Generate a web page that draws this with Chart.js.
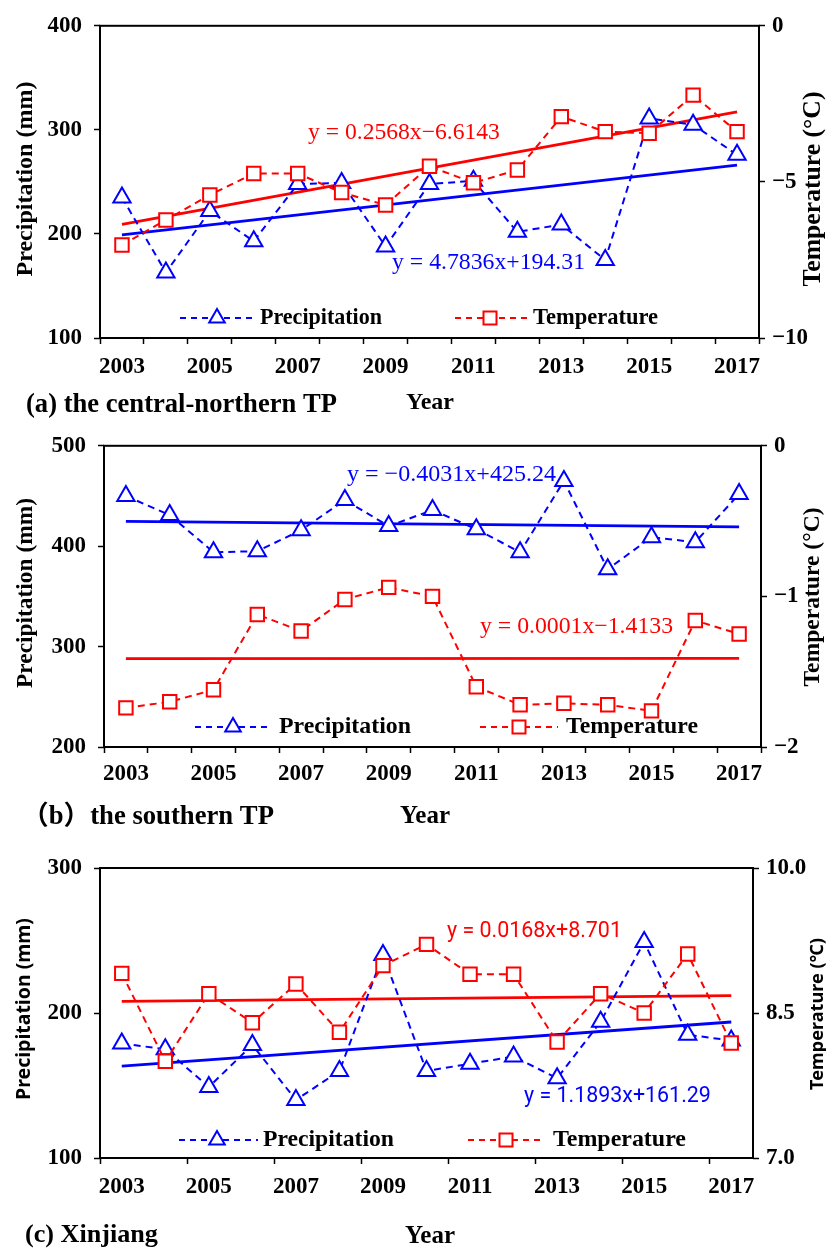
<!DOCTYPE html>
<html>
<head>
<meta charset="utf-8">
<script src="https://cdn.jsdelivr.net/npm/chart.js@4.4.0/dist/chart.umd.min.js"></script>
<style>
  body { margin: 0; background: #fff; width: 826px; height: 1249px; position: relative; overflow: hidden; }
  canvas { position: absolute; left: 0; }
</style>
</head>
<body>
<canvas id="chartA" width="826" height="420" style="top:0px"></canvas>
<canvas id="chartB" width="826" height="410" style="top:420px"></canvas>
<canvas id="chartC" width="826" height="419" style="top:830px"></canvas>
<script>
var years = ['2003', '2004', '2005', '2006', '2007', '2008', '2009', '2010', '2011', '2012', '2013', '2014', '2015', '2016', '2017'];

// (a) the central-northern TP
var precipA = [235, 163, 222, 193, 248, 249, 188, 248, 251, 202, 209, 175, 311, 305, 276];
var tempA = [-7.02, -6.22, -5.42, -4.73, -4.73, -5.34, -5.74, -4.50, -5.03, -4.62, -2.91, -3.39, -3.44, -2.22, -3.39];
var trendPrecipA = [199.1, 266.1]; // fitted line at 2003 and 2017
var trendTempA = [-6.36, -2.76];
var precipTicksA = [100, 200, 300, 400];
var tempTicksA = [-10, -5, 0];
var eqPrecipA = 'y = 4.7836x+194.31';
var eqTempA = 'y = 0.2568x\u22126.6143';

// (b) the southern TP
var precipB = [450, 431, 394, 395, 416, 446, 420, 436, 417, 394, 465, 377, 409, 404, 452];
var tempB = [-1.74, -1.70, -1.62, -1.12, -1.23, -1.02, -0.94, -1.00, -1.60, -1.72, -1.71, -1.72, -1.76, -1.16, -1.25];
var trendPrecipB = [424.8, 419.2];
var trendTempB = [-1.413, -1.412];
var precipTicksB = [200, 300, 400, 500];
var tempTicksB = [-2, -1, 0];
var eqPrecipB = 'y = \u22120.4031x+425.24';
var eqTempB = 'y = 0.0001x\u22121.4133';

// (c) Xinjiang
var precipC = [179, 175, 149, 178, 140, 160, 240, 160, 165, 170, 155, 194, 249, 185, 181];
var tempC = [8.91, 8.00, 8.70, 8.40, 8.80, 8.30, 8.99, 9.21, 8.90, 8.90, 8.20, 8.70, 8.50, 9.11, 8.19];
var trendPrecipC = [163.4, 193.8];
var trendTempC = [8.62, 8.68];
var precipTicksC = [100, 200, 300];
var tempTicksC = [7.0, 8.5, 10.0];
var eqPrecipC = 'y = 1.1893x+161.29';
var eqTempC = 'y = 0.0168x+8.701';

var RED = '#ff0000';
var BLUE = '#0000ff';
var SERIF = '"Liberation Serif", "Times New Roman", "Noto Sans CJK SC", serif';
var SANS = '"Noto Sans", "DejaVu Sans", "Noto Sans CJK SC", sans-serif';
var NARROW = 'Roboto, "Noto Sans", sans-serif';

function ends(pair) {
    var d = years.map(function () { return null; });
    d[0] = pair[0];
    d[d.length - 1] = pair[1];
    return d;
}

function fmtTemp(v, digits) {
    var s = Math.abs(v).toFixed(digits);
    return v < 0 ? '\u2212' + s : s;
}

// pick a font size so the text spans the given width
function fitFont(ctx, text, weight, family, width) {
    ctx.font = weight + ' 20px ' + family;
    var size = 20 * width / ctx.measureText(text).width;
    ctx.font = weight + ' ' + size.toFixed(2) + 'px ' + family;
}

function drawText(ctx, t) {
    ctx.save();
    fitFont(ctx, t.text, t.weight || 'normal', t.family, t.width);
    ctx.fillStyle = t.color || '#000';
    ctx.textBaseline = 'middle';
    if (t.rotate) {
        ctx.translate(t.x, t.y);
        ctx.rotate(-Math.PI / 2);
        ctx.textAlign = 'center';
        ctx.fillText(t.text, 0, 0);
    } else {
        ctx.textAlign = 'left';
        ctx.fillText(t.text, t.x, t.y);
    }
    ctx.restore();
}

function drawMarker(ctx, style, x, y, color) {
    ctx.save();
    ctx.strokeStyle = color;
    ctx.fillStyle = '#fff';
    ctx.lineWidth = 2;
    ctx.setLineDash([]);
    ctx.beginPath();
    if (style === 'triangle') {
        var r = 9;
        ctx.moveTo(x, y - r);
        ctx.lineTo(x + r * 0.866, y + r / 2);
        ctx.lineTo(x - r * 0.866, y + r / 2);
        ctx.closePath();
    } else {
        ctx.rect(x - 6.5, y - 6.5, 13, 13);
    }
    ctx.fill();
    ctx.stroke();
    ctx.restore();
}

function drawLegendItem(ctx, l) {
    ctx.save();
    ctx.strokeStyle = l.color;
    ctx.lineWidth = 2;
    ctx.setLineDash([6, 5]);
    ctx.beginPath();
    ctx.moveTo(l.x1, l.y);
    ctx.lineTo(l.x2, l.y);
    ctx.stroke();
    ctx.restore();
    drawMarker(ctx, l.style, l.xm, l.y, l.color);
    drawText(ctx, { text: l.text, x: l.tx, y: l.y, width: l.tw, weight: 'bold', family: SERIF });
}

var framePlugin = {
    id: 'frame',
    beforeDatasetsDraw: function (chart) {
        var a = chart.chartArea;
        var ctx = chart.ctx;
        ctx.save();
        ctx.strokeStyle = '#000';
        ctx.lineWidth = 2;
        ctx.strokeRect(a.left, a.top, a.right - a.left, a.bottom - a.top);
        ctx.restore();
    }
};

function buildChart(p) {
    var tickFont = { family: SERIF, size: 23, weight: 'bold' };
    var textPlugin = {
        id: 'texts',
        afterDraw: function (chart) {
            p.texts.forEach(function (t) { drawText(chart.ctx, t); });
            p.legend.forEach(function (l) { drawLegendItem(chart.ctx, l); });
        }
    };
    var lt = p.precipTicks, rt = p.tempTicks;
    var ctx = document.getElementById(p.canvas).getContext('2d');
    return new Chart(ctx, {
        type: 'line',
        data: {
            labels: years,
            datasets: [
                {
                    label: 'Temperature', data: p.temp, yAxisID: 'yT', order: 1,
                    borderColor: RED, borderWidth: 2, borderDash: [7, 5],
                    pointStyle: 'rect', pointRadius: 9.5, pointBorderWidth: 2,
                    pointBorderColor: RED, pointBackgroundColor: '#fff'
                },
                {
                    label: 'Precipitation', data: p.precip, yAxisID: 'yP', order: 2,
                    borderColor: BLUE, borderWidth: 2, borderDash: [7, 5],
                    pointStyle: 'triangle', pointRadius: 10, pointBorderWidth: 2,
                    pointBorderColor: BLUE, pointBackgroundColor: '#fff'
                },
                {
                    label: 'Temperature trend', data: ends(p.trendTemp), yAxisID: 'yT', order: 3,
                    borderColor: RED, borderWidth: 2.8, pointRadius: 0, spanGaps: true
                },
                {
                    label: 'Precipitation trend', data: ends(p.trendPrecip), yAxisID: 'yP', order: 4,
                    borderColor: BLUE, borderWidth: 2.8, pointRadius: 0, spanGaps: true
                }
            ]
        },
        options: {
            responsive: false,
            animation: false,
            devicePixelRatio: 1,
            layout: { padding: { top: p.area.top, left: 0, right: 0, bottom: 0 } },
            elements: { line: { tension: 0 } },
            plugins: { legend: { display: false }, tooltip: { enabled: false } },
            scales: {
                x: {
                    offset: true,
                    border: { display: false },
                    grid: { offset: true, drawOnChartArea: false, tickLength: 6, tickWidth: 1.5, tickColor: p.xTickColor },
                    ticks: {
                        autoSkip: false, maxRotation: 0, padding: p.xPad, color: '#000', font: tickFont,
                        callback: function (v, i) { return i % 2 === 0 ? years[i] : ''; }
                    },
                    afterFit: function (s) { s.height = p.height - p.area.bottom; }
                },
                yP: {
                    position: 'left',
                    min: lt[0], max: lt[lt.length - 1],
                    border: { display: false },
                    grid: { drawOnChartArea: false, tickLength: 6, tickWidth: 1.5, tickColor: '#000' },
                    ticks: { stepSize: lt[1] - lt[0], padding: 12, color: '#000', font: tickFont },
                    afterFit: function (s) { s.width = p.area.left; }
                },
                yT: {
                    position: 'right',
                    min: rt[0], max: rt[rt.length - 1],
                    border: { display: false },
                    grid: { drawOnChartArea: false, tickLength: 6, tickWidth: 1.5, tickColor: '#000' },
                    ticks: {
                        stepSize: rt[1] - rt[0], padding: 7, color: '#000', font: tickFont,
                        callback: function (v) { return fmtTemp(v, p.tempDigits); }
                    },
                    afterFit: function (s) { s.width = 826 - p.area.right; }
                }
            }
        },
        plugins: [framePlugin, textPlugin]
    });
}

function everyOther(c) {
    return c.index % 2 === 0 ? '#000' : 'rgba(0,0,0,0)';
}

var chartA = buildChart({
    canvas: 'chartA', height: 420,
    area: { top: 23, bottom: 338, left: 100, right: 759 },
    precip: precipA, temp: tempA, trendPrecip: trendPrecipA, trendTemp: trendTempA,
    precipTicks: precipTicksA, tempTicks: tempTicksA, tempDigits: 0,
    xTickColor: '#000', xPad: 9,
    texts: [
        { text: 'Precipitation (mm)', x: 26, y: 179, width: 195, rotate: true, weight: 'bold', family: SERIF },
        { text: 'Temperature (\u00b0C)', x: 813, y: 189, width: 195, rotate: true, weight: 'bold', family: SERIF },
        { text: eqTempA, x: 308, y: 133, width: 192, color: RED, family: SERIF },
        { text: eqPrecipA, x: 392, y: 263, width: 193, color: BLUE, family: SERIF },
        { text: '(a) the central-northern TP', x: 26, y: 405, width: 311, weight: 'bold', family: SERIF },
        { text: 'Year', x: 406, y: 403, width: 48, weight: 'bold', family: SERIF }
    ],
    legend: [
        { text: 'Precipitation', style: 'triangle', color: BLUE, x1: 180, x2: 252, xm: 217, y: 318, tx: 260, tw: 122 },
        { text: 'Temperature', style: 'rect', color: RED, x1: 455, x2: 527, xm: 490, y: 318, tx: 533, tw: 125 }
    ]
});

var chartB = buildChart({
    canvas: 'chartB', height: 410,
    area: { top: 15, bottom: 327, left: 104, right: 761 },
    precip: precipB, temp: tempB, trendPrecip: trendPrecipB, trendTemp: trendTempB,
    precipTicks: precipTicksB, tempTicks: tempTicksB, tempDigits: 0,
    xTickColor: '#000', xPad: 7,
    texts: [
        { text: 'Precipitation (mm)', x: 26, y: 173, width: 190, rotate: true, weight: 'bold', family: SERIF },
        { text: 'Temperature (\u00b0C)', x: 813, y: 177, width: 179, rotate: true, weight: 'bold', family: SERIF },
        { text: eqPrecipB, x: 347, y: 55, width: 209, color: BLUE, family: SERIF },
        { text: eqTempB, x: 480, y: 207, width: 193, color: RED, family: SERIF },
        { text: '\uff08b\uff09the southern TP', x: 22, y: 397, width: 252, weight: 'bold', family: SERIF },
        { text: 'Year', x: 400, y: 397, width: 50, weight: 'bold', family: SERIF }
    ],
    legend: [
        { text: 'Precipitation', style: 'triangle', color: BLUE, x1: 195, x2: 271, xm: 233, y: 307, tx: 279, tw: 132 },
        { text: 'Temperature', style: 'rect', color: RED, x1: 480, x2: 558, xm: 519, y: 307, tx: 566, tw: 132 }
    ]
});

var chartC = buildChart({
    canvas: 'chartC', height: 419,
    area: { top: 38, bottom: 328, left: 100, right: 753 },
    precip: precipC, temp: tempC, trendPrecip: trendPrecipC, trendTemp: trendTempC,
    precipTicks: precipTicksC, tempTicks: tempTicksC, tempDigits: 1,
    xTickColor: everyOther, xPad: 9,
    texts: [
        { text: 'Precipitation (mm)', x: 24, y: 179, width: 182, rotate: true, weight: 'bold', family: SANS },
        { text: 'Temperature (\u2103)', x: 818, y: 184, width: 152, rotate: true, weight: 'bold', family: SANS },
        { text: eqTempC, x: 447, y: 102, width: 175, color: RED, family: NARROW },
        { text: eqPrecipC, x: 524, y: 267, width: 187, color: BLUE, family: NARROW },
        { text: '(c) Xinjiang', x: 25, y: 405, width: 133, weight: 'bold', family: SERIF },
        { text: 'Year', x: 405, y: 407, width: 50, weight: 'bold', family: SERIF }
    ],
    legend: [
        { text: 'Precipitation', style: 'triangle', color: BLUE, x1: 179, x2: 258, xm: 217, y: 310, tx: 263, tw: 131 },
        { text: 'Temperature', style: 'rect', color: RED, x1: 468, x2: 545, xm: 506, y: 310, tx: 553, tw: 133 }
    ]
});
</script>
</body>
</html>
